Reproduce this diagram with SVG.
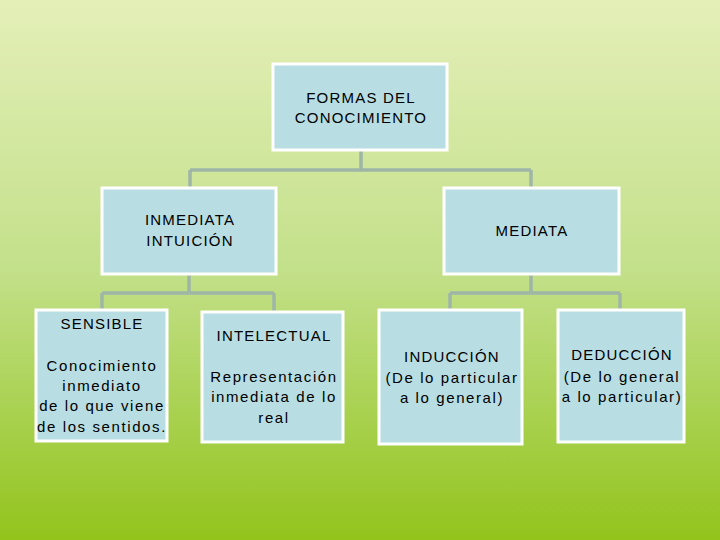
<svg xmlns="http://www.w3.org/2000/svg" width="720" height="540" viewBox="0 0 720 540">
<defs>
<linearGradient id="bg" x1="0" y1="0" x2="0" y2="1">
<stop offset="0" stop-color="#e4efb8"/>
<stop offset="0.5" stop-color="#c3e08a"/>
<stop offset="1" stop-color="#92c41c"/>
</linearGradient>
<style>
.box{fill:#b8dde2;stroke:#ffffff;stroke-width:3}
.conn{fill:none;stroke:#9fb5a6;stroke-width:3.5}
text{font-family:"Liberation Sans",Arial,sans-serif;font-size:15px;fill:#000;text-anchor:middle;letter-spacing:1.2px}
.sp{letter-spacing:1.6px}
</style>
</defs>
<rect width="720" height="540" fill="url(#bg)"/>
<g id="connectors">
<path class="conn" d="M361,151 V170 M190,170 H531 M190,170 V187 M531,170 V187"/>
<path class="conn" d="M189,275 V293 M102,293 H274 M102,293 V310 M274,293 V312"/>
<path class="conn" d="M531,275 V293 M450,293 H620 M450,293 V310 M620,293 V310"/>
</g>
<g id="formas">
<rect class="box" x="273" y="64" width="174" height="86"/>
<text x="361" y="103">FORMAS DEL</text>
<text x="361" y="123">CONOCIMIENTO</text>
</g>
<g id="inmediata">
<rect class="box" x="102" y="188" width="174" height="86"/>
<text x="190" y="225">INMEDIATA</text>
<text x="190" y="246">INTUICIÓN</text>
</g>
<g id="mediata">
<rect class="box" x="444" y="188" width="175" height="86"/>
<text x="532" y="236">MEDIATA</text>
</g>
<g id="sensible">
<rect class="box" x="36" y="310" width="131" height="131"/>
<text x="102" y="329">SENSIBLE</text>
<text class="sp" x="102" y="371">Conocimiento</text>
<text class="sp" x="102" y="391">inmediato</text>
<text class="sp" x="102" y="411">de lo que viene</text>
<text class="sp" x="102" y="432">de los sentidos.</text>
</g>
<g id="intelectual">
<rect class="box" x="202" y="312" width="141" height="130"/>
<text x="274" y="341">INTELECTUAL</text>
<text class="sp" x="274" y="382">Representación</text>
<text class="sp" x="274" y="402">inmediata de lo</text>
<text class="sp" x="274" y="423">real</text>
</g>
<g id="induccion">
<rect class="box" x="379" y="310" width="143" height="134"/>
<text x="452" y="362">INDUCCIÓN</text>
<text class="sp" x="452" y="383">(De lo particular</text>
<text class="sp" x="452" y="403">a lo general)</text>
</g>
<g id="deduccion">
<rect class="box" x="558" y="310" width="126" height="132"/>
<text x="622" y="360">DEDUCCIÓN</text>
<text class="sp" x="622" y="382">(De lo general</text>
<text class="sp" x="622" y="402">a lo particular)</text>
</g>
</svg>
